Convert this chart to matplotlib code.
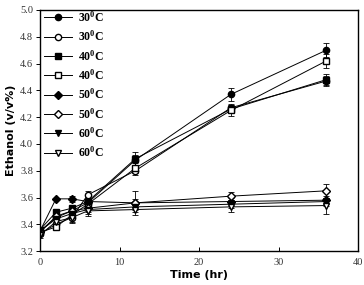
import numpy as np
import matplotlib
matplotlib.use('Agg')
import matplotlib.pyplot as plt

time = [0, 2, 4, 6, 12, 24, 36]

labels = ['30', '30', '40', '40', '50', '50', '60', '60']
markers = ['o', 'o', 's', 's', 'D', 'D', 'v', 'v']
filled = [True, False, True, False, True, False, True, False]

ethanol = [
    [3.35, 3.45, 3.50, 3.56, 3.88, 4.37, 4.70],
    [3.33, 3.40, 3.45, 3.62, 3.80, 4.27, 4.47],
    [3.36, 3.49, 3.52, 3.57, 3.89, 4.26, 4.48],
    [3.34, 3.38, 3.47, 3.55, 3.82, 4.25, 4.62],
    [3.35, 3.59, 3.59, 3.57, 3.56, 3.57, 3.58],
    [3.34, 3.46, 3.50, 3.52, 3.56, 3.61, 3.65],
    [3.35, 3.44, 3.48, 3.51, 3.53, 3.55, 3.57],
    [3.32, 3.42, 3.45, 3.50, 3.51, 3.53, 3.54],
]
errors = [
    [0.02, 0.02, 0.03, 0.03, 0.04, 0.05, 0.05],
    [0.02, 0.03, 0.03, 0.03, 0.03, 0.03, 0.04],
    [0.02, 0.02, 0.02, 0.03, 0.05, 0.03, 0.04],
    [0.02, 0.02, 0.03, 0.03, 0.04, 0.04, 0.05],
    [0.01, 0.01, 0.02, 0.03, 0.03, 0.03, 0.03],
    [0.02, 0.03, 0.03, 0.03, 0.09, 0.03, 0.05],
    [0.02, 0.02, 0.03, 0.03, 0.02, 0.03, 0.03],
    [0.02, 0.03, 0.04, 0.04, 0.02, 0.04, 0.06],
]

fig = plt.figure(figsize=(3.64, 2.85), dpi=100)
ax = fig.add_axes([0.110, 0.119, 0.874, 0.846])

handles = []
for i in range(len(labels)):
    eb = ax.errorbar(time, ethanol[i], yerr=errors[i], marker=markers[i],
                     color='black', mfc='black' if filled[i] else 'white',
                     mec='black', ms=4.5 if markers[i] != 'D' else 4,
                     lw=0.7, elinewidth=0.6, capsize=2.5, capthick=0.6)
    handles.append(eb[0])

ax.set_xlim(0, 40)
ax.set_ylim(3.2, 5.0)
ax.set_xticks([0, 10, 20, 30, 40])
ax.set_yticks(np.arange(3.2, 5.01, 0.2))
ax.set_yticklabels([f'{v:.1f}' for v in np.arange(3.2, 5.01, 0.2)])
for lab in ax.get_xticklabels() + ax.get_yticklabels():
    lab.set_fontname('Liberation Serif')
    lab.set_fontsize(7.5)
    lab.set_color('#333333')
ax.tick_params(axis='x', direction='in', length=3, width=0.7, pad=5)
ax.tick_params(axis='y', direction='out', length=3, width=0.7, pad=2)
for s in ax.spines.values():
    s.set_linewidth(1.0)

ax.set_xlabel('Time (hr)', fontsize=8, fontweight='bold', labelpad=2)
ax.set_ylabel('Ethanol (v/v%)', fontsize=8, fontweight='bold', labelpad=3)

ax.legend(handles, [l + r'$\mathregular{^0}$C' for l in labels],
          loc='upper left', bbox_to_anchor=(0.005, 1.01), frameon=False,
          handlelength=2.4, handletextpad=0.5, labelspacing=0.4,
          borderaxespad=0.0, borderpad=0.2,
          prop={'family': 'Liberation Serif', 'size': 8.5, 'weight': 'bold'})

fig.savefig('out.png', dpi=100)
